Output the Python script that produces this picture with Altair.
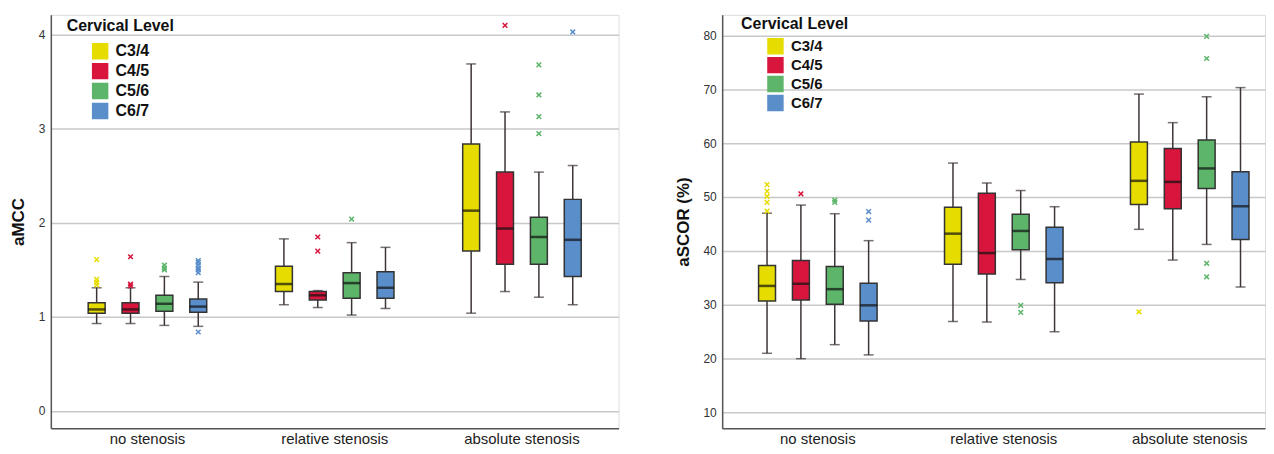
import altair as alt
import pandas as pd

groups = ["no stenosis", "relative stenosis", "absolute stenosis"]
levels = ["C3/4", "C4/5", "C5/6", "C6/7"]
colors = ["#E6DC00", "#D8153C", "#5DB56A", "#5A8ECB"]

# aMCC, order: group-major, then level C3/4..C6/7
mcc_lo = [0.93, 0.93, 0.91, 0.90, 1.13, 1.10, 1.02, 1.09, 1.04, 1.27, 1.21, 1.13]
mcc_q1 = [1.04, 1.04, 1.06, 1.05, 1.27, 1.18, 1.20, 1.20, 1.70, 1.56, 1.56, 1.43]
mcc_med = [1.08, 1.08, 1.14, 1.11, 1.35, 1.23, 1.36, 1.31, 2.13, 1.94, 1.85, 1.82]
mcc_q3 = [1.15, 1.15, 1.23, 1.19, 1.54, 1.27, 1.47, 1.48, 2.84, 2.54, 2.06, 2.25]
mcc_hi = [1.31, 1.31, 1.43, 1.37, 1.83, 1.28, 1.79, 1.74, 3.69, 3.18, 2.54, 2.61]
mcc_out_value = [1.61, 1.40, 1.37, 1.34, 1.64, 1.35, 1.33, 1.55, 1.52, 1.50,
                 1.60, 1.58, 1.55, 1.52, 1.50, 1.47, 0.84,
                 1.85, 1.70, 2.04,
                 4.10, 3.68, 3.36, 3.13, 2.95, 4.03]
mcc_out_group = [0] * 17 + [1, 1, 1] + [2] * 6
mcc_out_level = [0, 0, 0, 0, 1, 1, 1, 2, 2, 2, 3, 3, 3, 3, 3, 3, 3,
                 1, 1, 2,
                 1, 2, 2, 2, 2, 3]

# aSCOR (%)
scor_lo = [21.0, 20.0, 22.6, 20.7, 26.9, 26.8, 34.7, 25.0, 44.0, 38.3, 41.2, 33.3]
scor_q1 = [30.7, 30.9, 30.1, 27.0, 37.5, 35.7, 40.2, 34.1, 48.6, 47.8, 51.6, 42.1]
scor_med = [33.5, 33.9, 32.9, 29.9, 43.2, 39.6, 43.7, 38.5, 53.0, 52.8, 55.3, 48.3]
scor_q3 = [37.3, 38.2, 37.1, 34.0, 48.1, 50.7, 46.8, 44.4, 60.2, 59.0, 60.6, 54.7]
scor_hi = [47.0, 48.5, 46.9, 41.9, 56.3, 52.6, 51.2, 48.2, 69.1, 63.8, 68.6, 70.3]
scor_out_value = [52.3, 51.1, 50.1, 49.0, 47.4, 50.6, 49.4, 49.0, 47.3, 45.7,
                  29.9, 28.6,
                  28.7, 79.8, 75.7, 37.7, 35.2]
scor_out_group = [0] * 10 + [1, 1] + [2] * 5
scor_out_level = [0, 0, 0, 0, 0, 1, 2, 2, 3, 3,
                  2, 2,
                  0, 2, 2, 2, 2]

FONT = "Liberation Sans"


def box_frame(lo, q1, med, q3, hi):
    rows = []
    for i, g in enumerate(groups):
        for j, lv in enumerate(levels):
            k = i * 4 + j
            rows.append({"group": g, "level": lv, "lo": lo[k], "q1": q1[k],
                         "med": med[k], "q3": q3[k], "hi": hi[k]})
    return pd.DataFrame(rows)


def out_frame(gi, li, vals):
    return pd.DataFrame({"group": [groups[g] for g in gi],
                         "level": [levels[l] for l in li],
                         "value": vals})


def panel(df, odf, title, domain, ticks, width, height, pin, pout, align,
          legend_x, legend_y, row_pad, leg_font, title_x, title_y, title_pad):
    xs = alt.X("group:N", sort=groups, title=None,
               scale=alt.Scale(domain=groups, paddingInner=pin,
                               paddingOuter=pout, align=align),
               axis=alt.Axis(labelAngle=0, ticks=False, labelFontSize=15,
                             labelFont=FONT, labelColor="#222",
                             labelPadding=3, domainColor="#555",
                             domainWidth=1.5, grid=False))
    xo = alt.XOffset("level:N", sort=levels,
                     scale=alt.Scale(domain=levels, paddingInner=0,
                                     paddingOuter=0))
    yscale = alt.Scale(domain=domain, nice=False, zero=False)
    yaxis = alt.Axis(values=ticks, format="d", ticks=False, labelFontSize=12,
                     labelFont=FONT, labelColor="#333", labelPadding=6,
                     grid=True, gridColor="#C8C8C8", gridWidth=1.5,
                     domainColor="#555", domainWidth=1.5,
                     title=title, titleFont=FONT, titleFontSize=17,
                     titleFontWeight="bold", titleColor="#111",
                     titlePadding=title_pad)
    base = alt.Chart(df)
    whisk = base.mark_rule(color="#3d3535", strokeWidth=1.5).encode(
        x=xs, xOffset=xo, y=alt.Y("lo:Q", scale=yscale, axis=yaxis), y2="hi:Q")
    cap_lo = base.mark_tick(color="#3d3535", size=10, thickness=1.5).encode(
        x=xs, xOffset=xo, y="lo:Q")
    cap_hi = base.mark_tick(color="#3d3535", size=10, thickness=1.5).encode(
        x=xs, xOffset=xo, y="hi:Q")
    box = base.mark_bar(width=17, stroke="#333333", strokeWidth=1.5).encode(
        x=xs, xOffset=xo, y="q1:Q", y2="q3:Q",
        fill=alt.Fill("level:N", sort=levels,
                      scale=alt.Scale(domain=levels, range=colors),
                      legend=alt.Legend(title=None, orient="none",
                                        legendX=legend_x, legendY=legend_y,
                                        symbolType="square", symbolSize=225,
                                        symbolStrokeColor="#333",
                                        symbolStrokeWidth=1.5,
                                        symbolOpacity=1,
                                        labelFont=FONT, labelFontSize=leg_font,
                                        labelFontWeight="bold",
                                        labelColor="#111", labelOffset=7,
                                        rowPadding=row_pad)))
    med = base.mark_tick(color="#111", size=17, thickness=2.5).encode(
        x=xs, xOffset=xo, y="med:Q")
    outl = alt.Chart(odf).mark_point(
        shape="M-1,-1L1,1M1,-1L-1,1", filled=False, size=22,
        strokeWidth=1.5, opacity=1).encode(
        x=xs, xOffset=xo, y="value:Q",
        stroke=alt.Stroke("level:N", sort=levels,
                          scale=alt.Scale(domain=levels, range=colors),
                          legend=None))
    ltitle = alt.Chart(alt.Data(values=[{"t": "Cervical Level"}])).mark_text(
        align="left", baseline="middle", font=FONT, fontSize=16,
        fontWeight="bold", color="#111").encode(
        x=alt.value(title_x), y=alt.value(title_y), text="t:N")
    return alt.layer(whisk, cap_lo, cap_hi, box, med, outl, ltitle).properties(
        width=width, height=height)


left = panel(box_frame(mcc_lo, mcc_q1, mcc_med, mcc_q3, mcc_hi),
             out_frame(mcc_out_group, mcc_out_level, mcc_out_value),
             "aMCC", [-0.183, 4.212], [0, 1, 2, 3, 4], 570, 415,
             0.2766, 0.1543, 0.5, 41, 28, -1, 16, 16, 11, 11)
right = panel(box_frame(scor_lo, scor_q1, scor_med, scor_q3, scor_hi),
              out_frame(scor_out_group, scor_out_level, scor_out_value),
              "aSCOR (%)", [7.1, 83.8], [10, 20, 30, 40, 50, 60, 70, 80],
              545, 415, 0.2716, 0.0955, 0.787, 45, 23, -4, 15, 19, 9, 10)

chart = alt.hconcat(left, right, spacing=55).resolve_scale(
    x="independent", y="independent", fill="independent",
    stroke="independent", xOffset="independent").properties(
    padding={"left": 0, "top": 5, "right": 0, "bottom": 0}
).configure_view(stroke=None).configure(background="white")

chart.save("out.html", embed_options={"renderer": "svg", "actions": False})
